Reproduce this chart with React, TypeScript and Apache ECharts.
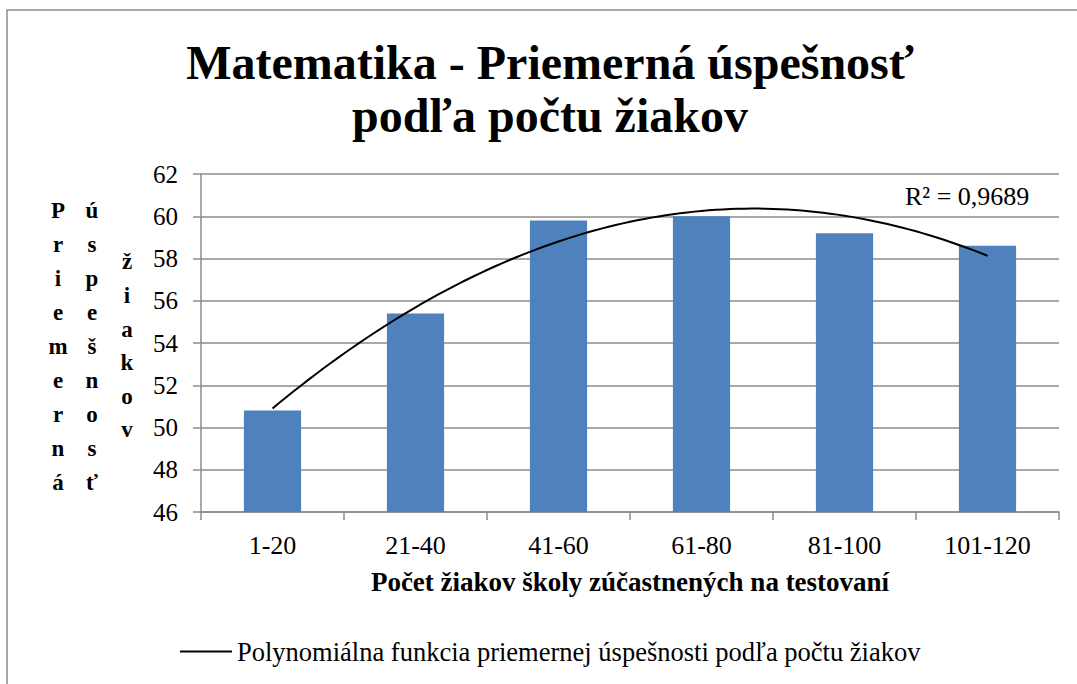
import React, { useEffect, useRef } from "react";
import * as echarts from "echarts";

const categories = ["1-20", "21-40", "41-60", "61-80", "81-100", "101-120"];
const successValues = [50.8, 55.4, 59.8, 60.0, 59.2, 58.6];
const titleLines = ["Matematika - Priemerná úspešnosť", "podľa počtu žiakov"];
const yTitleColumns = ["Priemerná", "úspešnosť", "žiakov"];
const xAxisTitle = "Počet žiakov školy zúčastnených na testovaní";
const trendName = "Polynomiálna funkcia priemernej úspešnosti podľa počtu žiakov";
const r2Label = "R² = 0,9689";

const FONT = "Liberation Serif";

// least-squares quadratic fit of the bar values (Excel polynomial trendline, order 2)
function quadFit(ys: number[]) {
  const n = ys.length;
  const xs = ys.map((_, i) => i + 1);
  const s = (f: (x: number, y: number) => number) =>
    xs.reduce((acc, x, i) => acc + f(x, ys[i]), 0);
  const S0 = n, S1 = s((x) => x), S2 = s((x) => x * x), S3 = s((x) => x ** 3), S4 = s((x) => x ** 4);
  const T0 = s((_, y) => y), T1 = s((x, y) => x * y), T2 = s((x, y) => x * x * y);
  const M = [
    [S4, S3, S2, T2],
    [S3, S2, S1, T1],
    [S2, S1, S0, T0],
  ];
  for (let i = 0; i < 3; i++) {
    for (let k = i + 1; k < 3; k++) {
      const f = M[k][i] / M[i][i];
      for (let j = i; j < 4; j++) M[k][j] -= f * M[i][j];
    }
  }
  const r = [0, 0, 0];
  for (let i = 2; i >= 0; i--) {
    let v = M[i][3];
    for (let j = i + 1; j < 3; j++) v -= M[i][j] * r[j];
    r[i] = v / M[i][i];
  }
  return { c: r[0], b: r[1], a: r[2] };
}

export default function App() {
  const ref = useRef<HTMLDivElement>(null);
  useEffect(() => {
    if (!ref.current) return;
    const chart = echarts.init(ref.current, undefined, { renderer: "svg" });
    const { a, b, c } = quadFit(successValues);
    const trend: number[][] = [];
    const steps = 100;
    for (let i = 0; i <= steps; i++) {
      const x = 1 + ((successValues.length - 1) * i) / steps;
      trend.push([x, a + b * x + c * x * x]);
    }

    const letterCols = yTitleColumns.map((w, ci) => ({
      type: "text",
      x: [58, 92, 127][ci],
      y: [193, 193, 245][ci],
      style: {
        text: Array.from(w).join("\n"),
        font: `bold 23px ${FONT}`,
        fill: "#000",
        textAlign: "center",
        lineHeight: ci === 2 ? 33.6 : 34,
      },
    }));

    chart.setOption({
      animation: false,
      backgroundColor: "#fff",
      textStyle: { fontFamily: FONT },
      graphic: [
        {
          type: "rect",
          shape: { x: 7, y: 10, width: 1200, height: 800 },
          style: { fill: "none", stroke: "#8c8c8c", lineWidth: 1.5 },
          silent: true,
        },
        {
          type: "text",
          x: 550,
          y: 36,
          style: {
            text: titleLines.join("\n"),
            font: `bold 48px ${FONT}`,
            fill: "#000",
            textAlign: "center",
            lineHeight: 53,
          },
        },
        {
          type: "text",
          x: 905,
          y: 183,
          style: { text: r2Label, font: `26px ${FONT}`, fill: "#000" },
          z: 10,
        },
        ...letterCols,
      ],
      grid: { left: 201, right: 18, top: 174, bottom: 172, containLabel: false },
      legend: {
        data: [{ name: trendName, icon: "path://M0,0 L52,0 L52,2 L0,2 Z" }],
        left: 180,
        top: 638,
        padding: 0,
        itemWidth: 52,
        itemHeight: 2,
        itemGap: 6,
        textStyle: { fontFamily: FONT, fontSize: 26.5, color: "#000" },
      },
      xAxis: [
        {
          type: "category",
          data: categories,
          axisLine: { lineStyle: { color: "#8c8c8c", width: 1.5 } },
          axisTick: { show: true, length: 8, lineStyle: { color: "#8c8c8c", width: 1.5 } },
          axisLabel: { fontFamily: FONT, fontSize: 26, color: "#000", margin: 20 },
          name: xAxisTitle,
          nameLocation: "middle",
          nameGap: 56,
          nameTextStyle: { fontFamily: FONT, fontSize: 27, fontWeight: "bold", color: "#000" },
        },
        {
          type: "value",
          min: 0.5,
          max: categories.length + 0.5,
          show: false,
        },
      ],
      yAxis: {
        type: "value",
        min: 46,
        max: 62,
        interval: 2,
        axisLine: { show: true, lineStyle: { color: "#8c8c8c", width: 1.5 } },
        axisTick: { show: true, length: 8, lineStyle: { color: "#8c8c8c", width: 1.5 } },
        axisLabel: { fontFamily: FONT, fontSize: 25, color: "#000", margin: 23 },
        splitLine: { lineStyle: { color: "#8c8c8c", width: 1.5 } },
      },
      series: [
        {
          name: "Priemerná úspešnosť",
          type: "bar",
          data: successValues,
          barWidth: "40%",
          itemStyle: { color: "#4F81BD" },
        },
        {
          name: trendName,
          type: "line",
          xAxisIndex: 1,
          data: trend,
          showSymbol: false,
          symbol: "none",
          lineStyle: { color: "#000", width: 2 },
          itemStyle: { color: "#000" },
          z: 5,
        },
      ],
    });
    return () => chart.dispose();
  }, []);
  return (
    <div
      ref={ref}
      style={{ position: "fixed", left: 0, top: 0, width: 1077, height: 684 }}
    />
  );
}
